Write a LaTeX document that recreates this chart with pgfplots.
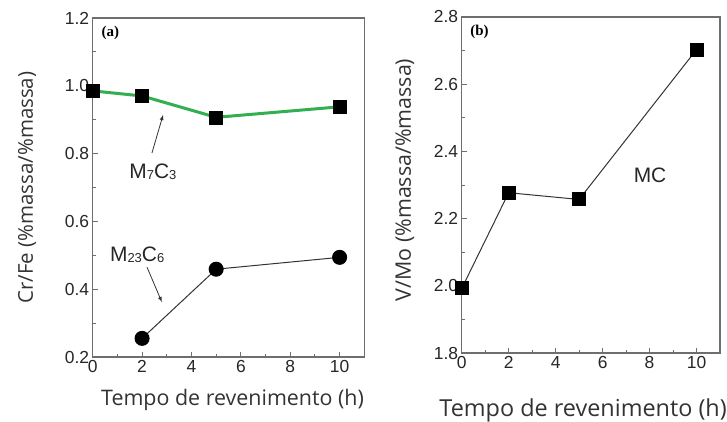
\documentclass[border=0pt]{standalone}
\usepackage{fontspec}
\setmainfont{Liberation Sans}
\newfontfamily\labfont{Open Sans}
\newfontfamily\serfont{Liberation Serif}
\usepackage{pgfplots}
\pgfplotsset{compat=1.18}
\definecolor{mgreen}{RGB}{50,175,80}
\definecolor{spine}{RGB}{110,110,110}
\begin{document}
\begin{tikzpicture}[x=1bp,y=1bp]
\path[use as bounding box] (0,0) rectangle (727,421);
\pgfplotsset{
  myax/.style={
    scale only axis,
    /pgf/number format/assume math mode=true,
    /pgf/number format/fixed,
    /pgf/number format/fixed zerofill,
    /pgf/number format/precision=1,
    xmin=0, xmax=11,
    xtick={0,2,4,6,8,10},
    minor x tick num=1,
    minor y tick num=1,
    tick align=inside,
    xtick pos=bottom, ytick pos=left,
    major tick length=5bp, minor tick length=3bp,
    axis line style={spine, line width=1.2bp},
    tick style={spine, line width=0.9bp},
    ticklabel style={font=\fontsize{17.5}{17.5}\selectfont, text=black!85},
    xticklabel style={/pgf/number format/precision=0, /pgf/number format/fixed zerofill=false},
    clip=false,
  }
}
\begin{axis}[myax,
  at={(92.7bp,64bp)}, anchor=south west,
  width=271.6bp, height=339bp,
  ymin=0.2, ymax=1.2,
  ytick={0.2,0.4,0.6,0.8,1.0,1.2},
  xlabel={Tempo de revenimento (h)},
  xlabel style={font=\labfont\fontsize{21.5}{21.5}\selectfont, text=black!80, at={(axis description cs:0.515,-0.127)}, anchor=center},
  ylabel={Cr/Fe (\%massa/\%massa)},
  ylabel style={font=\labfont\fontsize{20.5}{20.5}\selectfont, text=black!80, at={(axis description cs:-0.242,0.5)}, anchor=center},
]
\addplot[mgreen, line width=3bp, mark=square*, mark size=6.5bp, mark options={black, solid, line width=0.5bp}]
  coordinates {(0,0.985) (2,0.97) (5,0.907) (10,0.938)};
\addplot[black!80, line width=1bp, mark=*, mark size=7bp, mark options={black, fill=black}]
  coordinates {(2,0.255) (5,0.459) (10,0.494)};
\node[anchor=north west, font=\serfont\bfseries\fontsize{15}{15}\selectfont] at (axis description cs:0.02,0.985) {(a)};
\node[font=\fontsize{21}{21}\selectfont, text=black!85] at (axis cs:2.44,0.746) {M{\fontsize{13}{13}\selectfont\raisebox{-0.1em}{7}}C{\fontsize{13}{13}\selectfont\raisebox{-0.1em}{3}}};
\node[font=\fontsize{21}{21}\selectfont, text=black!85] at (axis cs:1.8,0.501) {M{\fontsize{13}{13}\selectfont\raisebox{-0.1em}{23}}C{\fontsize{13}{13}\selectfont\raisebox{-0.1em}{6}}};
\draw[-latex, black!80, line width=0.8bp] (axis cs:2.4,0.802) -- (axis cs:2.85,0.914);
\draw[-latex, black!80, line width=0.8bp] (axis cs:2.2,0.465) -- (axis cs:2.8,0.362);
\end{axis}
\begin{axis}[myax,
  at={(461.7bp,68bp)}, anchor=south west,
  width=258.3bp, height=336bp,
  ymin=1.8, ymax=2.8,
  ytick={1.8,2.0,2.2,2.4,2.6,2.8},
  xlabel={Tempo de revenimento (h)},
  xlabel style={font=\labfont\fontsize{23.5}{23.5}\selectfont, text=black!80, at={(axis description cs:0.47,-0.17)}, anchor=center},
  ylabel={V/Mo (\%massa/\%massa)},
  ylabel style={font=\labfont\fontsize{21.5}{21.5}\selectfont, text=black!80, at={(axis description cs:-0.22,0.515)}, anchor=center},
]
\addplot[black!80, line width=1bp, mark=square*, mark size=6.5bp, mark options={black, fill=black}]
  coordinates {(0,1.992) (2,2.277) (5,2.257) (10,2.703)};
\node[anchor=north west, font=\serfont\bfseries\fontsize{15}{15}\selectfont] at (axis description cs:0.02,0.985) {(b)};
\node[font=\fontsize{21}{21}\selectfont, text=black!85] at (axis cs:8.02,2.33) {MC};
\end{axis}
\end{tikzpicture}
\end{document}
